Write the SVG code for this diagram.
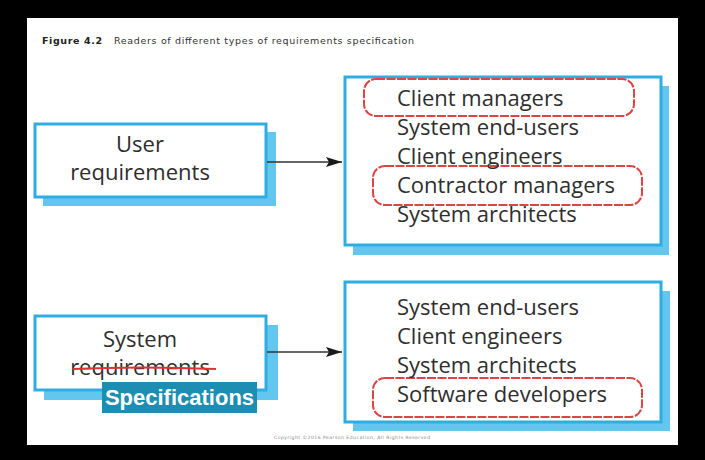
<svg xmlns="http://www.w3.org/2000/svg" width="705" height="460" viewBox="0 0 705 460">
<defs>
<style>
.box{fill:#ffffff;stroke:#2fade3;stroke-width:3}
.shadow{fill:#62c6ee}
.t{font-family:"Open Sans","Noto Sans",sans-serif;font-size:22px;fill:#2e2e2e}
.hl{fill:none;stroke:#dd4444;stroke-width:2;stroke-dasharray:9 1.5}
.conn{stroke:#333333;stroke-width:1.5;fill:none}
</style>
<marker id="arr" viewBox="0 0 16 10" refX="16" refY="5" markerWidth="16" markerHeight="10" markerUnits="userSpaceOnUse" orient="auto">
<path d="M0,0 L16,5 L0,10 L3,5 Z" fill="#1a1a1a"/>
</marker>
</defs>
<rect x="0" y="0" width="705" height="460" fill="#000000"/>
<rect x="27" y="18" width="651" height="427" fill="#ffffff"/>
<g id="title">
<text x="42" y="44" font-family="DejaVu Sans,sans-serif" font-size="9.5" font-weight="bold" fill="#222" textLength="60">Figure 4.2</text>
<text x="114" y="44" font-family="DejaVu Sans,sans-serif" font-size="9.5" fill="#333" textLength="300">Readers of different types of requirements specification</text>
</g>
<g id="user-requirements">
<rect class="shadow" x="43" y="132" width="233" height="74"/>
<rect class="box" x="35" y="124" width="231" height="73"/>
<text class="t" x="140" y="152" text-anchor="middle">User</text>
<text class="t" x="140" y="180" text-anchor="middle">requirements</text>
</g>
<g id="user-readers">
<rect class="shadow" x="353" y="86" width="316" height="169"/>
<rect class="box" x="345" y="77" width="316" height="168"/>
<rect class="hl" x="364" y="79" width="270" height="37" rx="12"/>
<rect class="hl" x="373" y="166" width="269" height="39" rx="12"/>
<text class="t" x="397" y="106">Client managers</text>
<text class="t" x="397" y="135">System end-users</text>
<text class="t" x="397" y="164">Client engineers</text>
<text class="t" x="397" y="193">Contractor managers</text>
<text class="t" x="397" y="222">System architects</text>
</g>
<g id="system-requirements">
<rect class="shadow" x="44" y="325" width="234" height="75"/>
<rect class="box" x="35" y="316" width="231" height="74"/>
<text class="t" x="140" y="347" text-anchor="middle">System</text>
<text class="t" x="140" y="375" text-anchor="middle">requirements</text>
<path d="M73,369 Q140,366 216,369" stroke="#dd3333" stroke-width="2" fill="none"/>
</g>
<g id="specifications">
<rect x="102" y="382" width="155" height="31" fill="#1d8db2"/>
<text x="179.5" y="405" text-anchor="middle" font-family="Liberation Sans,Arial,sans-serif" font-size="22" font-weight="bold" fill="#ffffff">Specifications</text>
</g>
<g id="system-readers">
<rect class="shadow" x="353" y="291" width="317" height="140"/>
<rect class="box" x="345" y="282" width="316" height="140"/>
<rect class="hl" x="373" y="378" width="269" height="39" rx="12"/>
<text class="t" x="397" y="315">System end-users</text>
<text class="t" x="397" y="344">Client engineers</text>
<text class="t" x="397" y="373">System architects</text>
<text class="t" x="397" y="402">Software developers</text>
</g>
<g id="connectors">
<line class="conn" x1="267" y1="162" x2="342" y2="162" marker-end="url(#arr)"/>
<line class="conn" x1="267" y1="352" x2="342" y2="352" marker-end="url(#arr)"/>
</g>
<text x="352" y="439" text-anchor="middle" font-family="DejaVu Sans,sans-serif" font-size="4.5" fill="#888888" textLength="156">Copyright ©2016 Pearson Education, All Rights Reserved</text>
</svg>
